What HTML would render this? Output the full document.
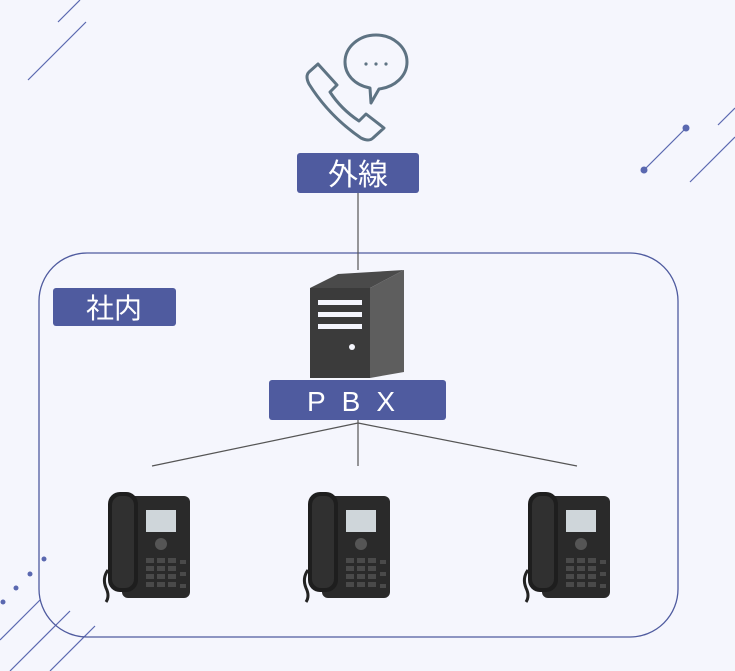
<!DOCTYPE html>
<html><head><meta charset="utf-8"><style>
html,body{margin:0;padding:0;background:#f5f6fd;}
svg{display:block}
text{font-family:"Liberation Sans","Noto Sans CJK JP",sans-serif}
</style></head><body>
<svg width="735" height="671" viewBox="0 0 735 671" xmlns="http://www.w3.org/2000/svg">
<defs>
<g id="phone">
  <rect x="22" y="8" width="68" height="102" rx="6" fill="#2a2a2a"/>
  <rect x="8" y="4" width="30" height="100" rx="12" fill="#1e1e1e"/>
  <rect x="12" y="8" width="22" height="92" rx="9" fill="#303030"/>
  <path d="M8 82 q-6 8 -2 18 q4 8 0 14" stroke="#222" stroke-width="3" fill="none"/>
  <rect x="46" y="22" width="30" height="22" fill="#cfd6da"/>
  <circle cx="61" cy="56" r="6" fill="#555"/>
  <g fill="#4a4a4a">
    <rect x="46" y="70" width="8" height="5"/><rect x="57" y="70" width="8" height="5"/><rect x="68" y="70" width="8" height="5"/>
    <rect x="46" y="78" width="8" height="5"/><rect x="57" y="78" width="8" height="5"/><rect x="68" y="78" width="8" height="5"/>
    <rect x="46" y="86" width="8" height="5"/><rect x="57" y="86" width="8" height="5"/><rect x="68" y="86" width="8" height="5"/>
    <rect x="46" y="94" width="8" height="5"/><rect x="57" y="94" width="8" height="5"/><rect x="68" y="94" width="8" height="5"/>
    <rect x="80" y="72" width="6" height="4"/><rect x="80" y="84" width="6" height="4"/><rect x="80" y="96" width="6" height="4"/>
  </g>
</g>
</defs>
<g stroke="#5a68b0" stroke-width="1.2" fill="none">
  <line x1="28" y1="80" x2="86" y2="22"/>
  <line x1="58" y1="22" x2="80" y2="0"/>
  <line x1="644" y1="170" x2="686" y2="128"/>
  <line x1="690" y1="182" x2="735" y2="137"/>
  <line x1="718" y1="125" x2="735" y2="108"/>
  <line x1="0" y1="640" x2="40" y2="600"/>
  <line x1="10" y1="671" x2="70" y2="611"/>
  <line x1="50" y1="671" x2="95" y2="626"/>
</g>
<g fill="#5a68b0">
  <circle cx="644" cy="170" r="3.5"/><circle cx="686" cy="128" r="3.5"/>
  <circle cx="44" cy="559" r="2.5"/><circle cx="30" cy="574" r="2.5"/><circle cx="16" cy="588" r="2.5"/><circle cx="3" cy="602" r="2.5"/>
</g>
<rect x="39" y="253" width="639" height="384" rx="48" fill="none" stroke="#4f5b9f" stroke-width="1.3"/>
<g stroke="#5e7383" stroke-width="3" fill="none" stroke-linejoin="round">
  <path d="M318 64 l-9 8 q-4 4 0 12 q20 32 52 54 q8 4 12 0 l11 -10 l-18 -14 l-7 7 q-18 -12 -29 -29 l7 -7 z"/>
  <path d="M370 88 c-16 -3 -25 -14 -25 -26 c0 -15 14 -27 31 -27 c17 0 31 12 31 27 c0 14 -12 25 -28 27 l-8 14 z"/>
</g>
<g fill="#5e7383"><circle cx="366" cy="64" r="1.6"/><circle cx="376" cy="64" r="1.6"/><circle cx="386" cy="64" r="1.6"/></g>
<rect x="297" y="153" width="122" height="40" rx="3" fill="#4f5b9f"/>
<text x="358" y="185" font-size="30" fill="#fff" text-anchor="middle">外線</text>
<line x1="358" y1="193" x2="358" y2="270" stroke="#555" stroke-width="1.2"/>
<rect x="53" y="288" width="123" height="38" rx="3" fill="#4f5b9f"/>
<text x="114" y="318" font-size="28" fill="#fff" text-anchor="middle">社内</text>
<polygon points="310,288 370,288 370,378 310,378" fill="#3b3b3b"/>
<polygon points="310,288 338,274 404,270 370,288" fill="#4a4a4a"/>
<polygon points="370,288 404,270 404,372 370,378" fill="#5e5e5e"/>
<g fill="#f5f6fd"><rect x="318" y="300" width="44" height="5"/><rect x="318" y="312" width="44" height="5"/><rect x="318" y="324" width="44" height="5"/></g>
<circle cx="352" cy="347" r="3" fill="#f5f6fd"/>
<rect x="269" y="380" width="177" height="40" rx="3" fill="#4f5b9f"/>
<text x="359" y="411" font-size="28" fill="#fff" text-anchor="middle" letter-spacing="16">PBX</text>
<g stroke="#555" stroke-width="1.2">
  <line x1="358" y1="420" x2="358" y2="466"/>
  <line x1="358" y1="423" x2="152" y2="466"/>
  <line x1="358" y1="423" x2="577" y2="466"/>
</g>
<use href="#phone" x="100" y="488"/>
<use href="#phone" x="300" y="488"/>
<use href="#phone" x="520" y="488"/>
</svg>
</body></html>
